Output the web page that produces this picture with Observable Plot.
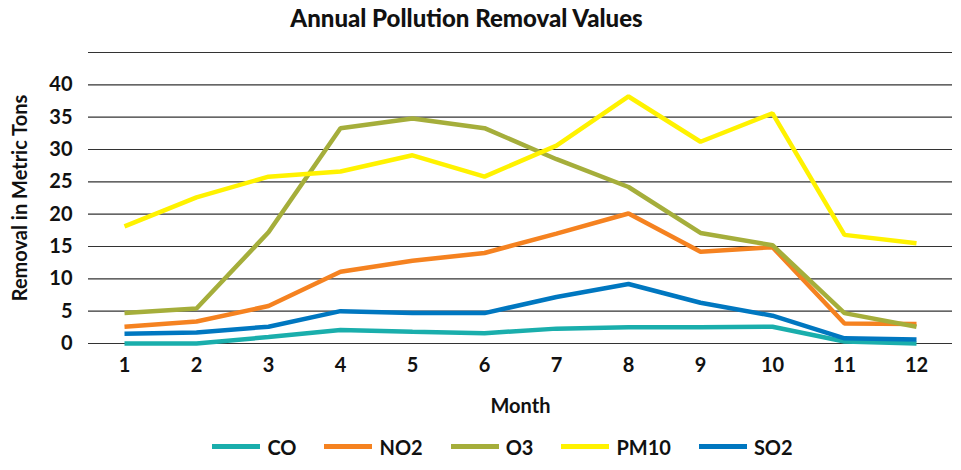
<!DOCTYPE html>
<html>
<head>
<meta charset="utf-8">
<script src="https://cdn.jsdelivr.net/npm/d3@7"></script>
<script src="https://cdn.jsdelivr.net/npm/@observablehq/plot@0.6"></script>
<style>
  html, body { margin: 0; padding: 0; background: #fff; }
  body { width: 961px; height: 470px; overflow: hidden; font-family: Lato, "Open Sans", sans-serif; color: #111; }
  #title { height: 38px; line-height: 36px; font-size: 24px; font-weight: 900; text-align: center; padding-right: 28px; box-sizing: border-box; }
  #chart svg { display: block; }
  #legend { height: 47px; display: flex; justify-content: center; align-items: center; padding-left: 44px; box-sizing: border-box; font-size: 20px; font-weight: 700; }
  .item { display: flex; align-items: center; margin: 0 14px; }
  .sw { width: 48px; height: 5px; margin-right: 7px; }
</style>
</head>
<body>
<div id="title">Annual Pollution Removal Values</div>
<div id="chart"></div>
<div id="legend"></div>
<script>
const months = [1, 2, 3, 4, 5, 6, 7, 8, 9, 10, 11, 12];
const seriesNames = ["CO", "NO2", "O3", "PM10", "SO2"];
const seriesColors = ["#1aaeac", "#f58220", "#a5ae3b", "#fff200", "#0077c0"];
const CO   = [0, 0, 1.0, 2.1, 1.8, 1.6, 2.3, 2.5, 2.5, 2.6, 0.3, 0.0];
const NO2  = [2.6, 3.4, 5.8, 11.1, 12.8, 14.0, 17.0, 20.1, 14.2, 14.9, 3.1, 3.0];
const O3   = [4.7, 5.4, 17.2, 33.3, 34.8, 33.3, 28.5, 24.2, 17.1, 15.2, 4.7, 2.6];
const PM10 = [18.1, 22.6, 25.8, 26.6, 29.1, 25.8, 30.6, 38.2, 31.2, 35.6, 16.8, 15.5];
const SO2  = [1.5, 1.7, 2.6, 5.0, 4.7, 4.7, 7.2, 9.2, 6.3, 4.3, 0.8, 0.6];
const yTicks = [0, 5, 10, 15, 20, 25, 30, 35, 40];
const gridValues = [0, 5, 10, 15, 20, 25, 30, 35, 40, 45];

const valuesBySeries = {CO, NO2, O3, PM10, SO2};
const data = seriesNames.flatMap(s => months.map((m, i) => ({month: m, value: valuesBySeries[s][i], series: s})));

const font = "Lato, 'Open Sans', sans-serif";
const chart = Plot.plot({
  width: 961,
  height: 385,
  marginTop: 14,
  marginBottom: 80,
  marginLeft: 88,
  marginRight: 9,
  style: {fontFamily: font, fontSize: "20px", fontWeight: 700, color: "#111", background: "#fff"},
  x: {domain: [0.5, 12.5]},
  y: {domain: [0, 45]},
  color: {domain: seriesNames, range: seriesColors},
  marks: [
    Plot.ruleY(gridValues, {stroke: "#333", strokeWidth: 1.2}),
    Plot.axisX(months, {tickSize: 0, tickPadding: 14, label: "Month", labelArrow: "none", labelAnchor: "center", labelOffset: 69, fontSize: 20, fontWeight: 700}),
    Plot.axisY(yTicks, {tickSize: 0, tickPadding: 16, label: "Removal in Metric Tons", labelArrow: "none", labelAnchor: "center", labelOffset: 76, fontSize: 20, fontWeight: 700}),
    Plot.line(data, {x: "month", y: "value", z: "series", stroke: "series", strokeWidth: 4.5, strokeLinejoin: "miter", strokeLinecap: "butt"})
  ]
});
document.getElementById("chart").appendChild(chart);

const legend = document.getElementById("legend");
seriesNames.forEach((s, i) => {
  const item = document.createElement("div");
  item.className = "item";
  const sw = document.createElement("div");
  sw.className = "sw";
  sw.style.background = seriesColors[i];
  const label = document.createElement("span");
  label.textContent = s;
  item.appendChild(sw);
  item.appendChild(label);
  legend.appendChild(item);
});
</script>
</body>
</html>
